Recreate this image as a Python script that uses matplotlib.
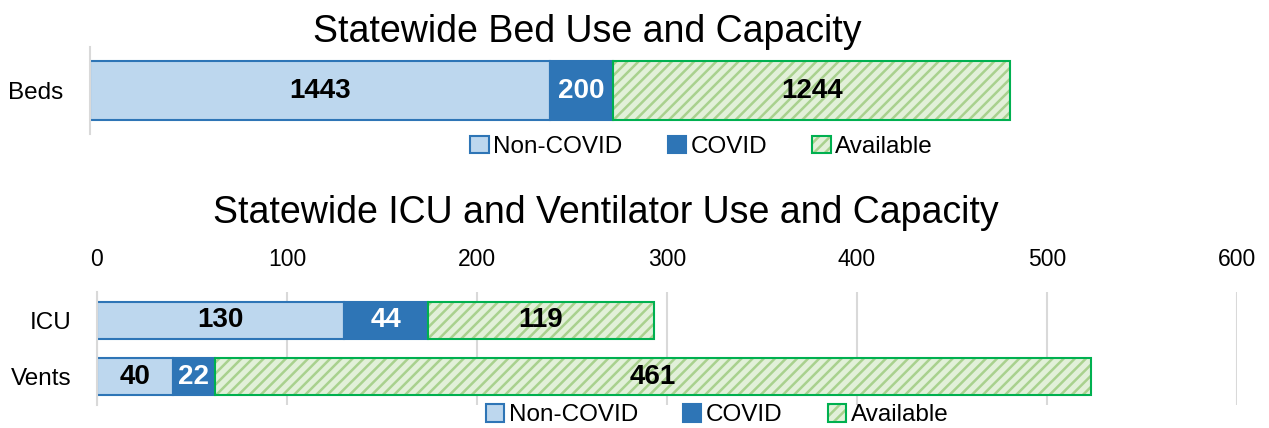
import numpy as np
import matplotlib.pyplot as plt
from matplotlib.patches import Patch
from matplotlib.legend_handler import HandlerTuple

plt.rcParams['font.family'] = ['Liberation Sans', 'DejaVu Sans']
plt.rcParams['hatch.linewidth'] = 1.8

# data
bed_cats = ['Beds']
bed_noncovid = [1443]
bed_covid = [200]
bed_avail = [1244]

icu_cats = ['ICU', 'Vents']
icu_noncovid = [130, 40]
icu_covid = [44, 22]
icu_avail = [119, 461]

series_names = ['Non-COVID', 'COVID', 'Available']

light_blue = '#BDD7EE'
blue = '#2E75B6'
green_fill = '#E2F0D9'
green_hatch = '#A9D18E'
green_edge = '#00B050'


def stacked(ax, cats, noncovid, covid, avail, height):
    y = np.arange(len(cats))
    noncovid = np.array(noncovid)
    covid = np.array(covid)
    avail = np.array(avail)
    b1 = ax.barh(y, noncovid, height=height, color=light_blue, edgecolor=blue, linewidth=1.5)
    b2 = ax.barh(y, covid, left=noncovid, height=height, color=blue, edgecolor=blue, linewidth=1.5)
    left3 = noncovid + covid
    ax.barh(y, avail, left=left3, height=height, color=green_fill, edgecolor=green_hatch,
            hatch='///', linewidth=0)
    b3 = ax.barh(y, avail, left=left3, height=height, facecolor='none', edgecolor=green_edge,
                 linewidth=1.5)
    ax.bar_label(b1, labels=[str(v) for v in noncovid], label_type='center',
                 fontsize=20, fontweight='bold', color='black')
    ax.bar_label(b2, labels=[str(v) for v in covid], label_type='center',
                 fontsize=20, fontweight='bold', color='white')
    ax.bar_label(b3, labels=[str(v) for v in avail], label_type='center',
                 fontsize=20, fontweight='bold', color='black')
    ax.set_yticks(y)
    ax.set_yticklabels(cats, fontsize=17.5)
    ax.invert_yaxis()
    for s in ['top', 'right', 'bottom']:
        ax.spines[s].set_visible(False)
    ax.spines['left'].set_color('#D9D9D9')
    ax.spines['left'].set_linewidth(1.5)


def legend_handles():
    h1 = Patch(facecolor=light_blue, edgecolor=blue, linewidth=1.5)
    h2 = Patch(facecolor=blue, edgecolor=blue, linewidth=1.5)
    h3a = Patch(facecolor=green_fill, edgecolor=green_hatch, hatch='///', linewidth=0)
    h3b = Patch(facecolor='none', edgecolor=green_edge, linewidth=1.5)
    return [h1, h2, (h3a, h3b)]


fig = plt.figure(figsize=(12.69, 4.28), dpi=100)

# top panel
ax1 = fig.add_axes([0.0709, 0.687, 0.9039, 0.203])
stacked(ax1, bed_cats, bed_noncovid, bed_covid, bed_avail, 0.68)
ax1.set_xlim(0, 3600)
ax1.set_ylim(0.5, -0.5)
ax1.set_xticks([])
ax1.tick_params(axis='y', length=0, pad=19)
fig.text(0.463, 0.925, 'Statewide Bed Use and Capacity', ha='center', va='center', fontsize=27)
fig.legend(legend_handles(), series_names, loc='center', bbox_to_anchor=(0.553, 0.657), ncol=3,
           frameon=False, fontsize=17.5, handlelength=0.75, handleheight=0.75, handletextpad=0.2,
           columnspacing=1.85, handler_map={tuple: HandlerTuple(ndivide=1, pad=0)})

# bottom panel
ax2 = fig.add_axes([0.0764, 0.0537, 0.8984, 0.264])
stacked(ax2, icu_cats, icu_noncovid, icu_covid, icu_avail, 0.66)
ax2.set_xlim(0, 600)
ax2.set_ylim(1.5, -0.5)
ax2.set_xticks(np.arange(0, 601, 100))
ax2.xaxis.tick_top()
ax2.tick_params(axis='x', length=0, pad=15, labelsize=16.5)
ax2.tick_params(axis='y', length=0, pad=18)
ax2.grid(axis='x', color='#D9D9D9', linewidth=1.5)
ax2.set_axisbelow(True)
fig.text(0.477, 0.502, 'Statewide ICU and Ventilator Use and Capacity', ha='center', va='center',
         fontsize=27)
fig.legend(legend_handles(), series_names, loc='center', bbox_to_anchor=(0.565, 0.030), ncol=3,
           frameon=False, fontsize=17.5, handlelength=0.75, handleheight=0.75, handletextpad=0.2,
           columnspacing=1.85, handler_map={tuple: HandlerTuple(ndivide=1, pad=0)})

fig.savefig('out.png', dpi=100)
